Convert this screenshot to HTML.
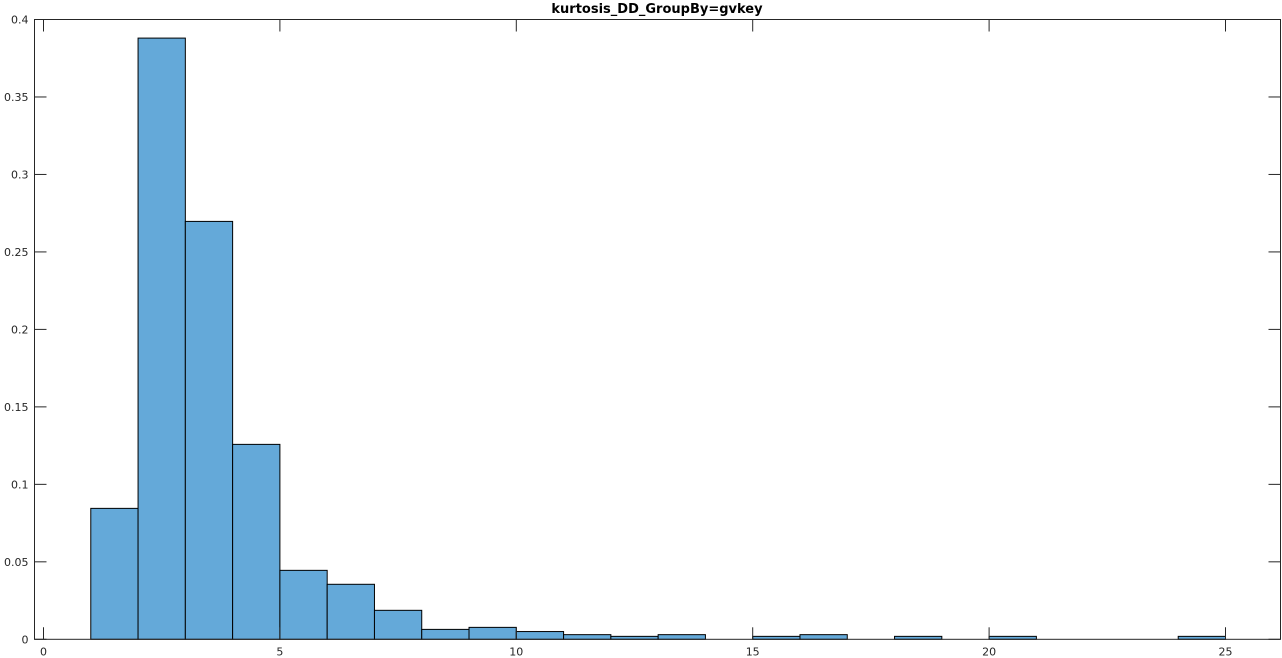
<!DOCTYPE html>
<html><head><meta charset="utf-8"><style>
html,body{margin:0;padding:0;background:#fff;width:1282px;height:658px;overflow:hidden}
svg{display:block}
text{font-family:"DejaVu Sans","Liberation Sans",sans-serif;font-size:11px;fill:#262626}
</style></head><body>
<svg id="chart" width="1282" height="658">
<text id="title" x="657" y="13" text-anchor="middle" style="font-weight:bold;font-size:13px;fill:#000">kurtosis_DD_GroupBy=gvkey</text>
<g id="bars"></g>
<g id="axes"></g>
</svg>
<script>
const binEdgesStart = [1,2,3,4,5,6,7,8,9,10,11,12,13,14,15,16,17,18,19,20,21,22,23,24];
const binValues = [0.0845,0.388,0.2697,0.1258,0.0445,0.0355,0.0187,0.0064,0.0077,0.005,0.003,0.0019,0.003,0,0.0019,0.003,0,0.0019,0,0.0019,0,0,0,0.0019];
const xTicks = [0,5,10,15,20,25];
const yTicks = [0,0.05,0.1,0.15,0.2,0.25,0.3,0.35,0.4];
const yTickLabels = ["0","0.05","0.1","0.15","0.2","0.25","0.3","0.35","0.4"];

const L=34.5,R=1280.5,T=19.5,B=639.3;
const sx=v=>43.5+v*(1225.5-43.5)/25;
const sy=v=>B-(v/0.4)*(B-T);
const NS="http://www.w3.org/2000/svg";
function mk(tag,attrs,parent){const e=document.createElementNS(NS,tag);for(const k in attrs)e.setAttribute(k,attrs[k]);parent.appendChild(e);return e;}
const bars=document.getElementById('bars'), axes=document.getElementById('axes');
binEdgesStart.forEach((x0,i)=>{
  const v=binValues[i]; if(v<=0) return;
  const r=mk('rect',{x:sx(x0),y:sy(v),width:sx(x0+1)-sx(x0),height:B-sy(v),fill:'#64a9d9',stroke:'#000','stroke-width':1},bars);
  
  
});
const box=mk('rect',{x:L,y:T,width:R-L,height:B-T,fill:'none',stroke:'#262626','stroke-width':1},axes);


xTicks.forEach(t=>{
  const x=sx(t);
  mk('line',{x1:x,y1:B,x2:x,y2:B-12,stroke:'#262626'},axes);
  mk('line',{x1:x,y1:T,x2:x,y2:T+12,stroke:'#262626'},axes);
  const tx=mk('text',{x:x,y:B+16,'text-anchor':'middle'},axes);tx.textContent=t;
  
  
});
yTicks.forEach((t,i)=>{
  const y=sy(t);
  mk('line',{x1:L,y1:y,x2:L+12,y2:y,stroke:'#262626'},axes);
  mk('line',{x1:R,y1:y,x2:R-12,y2:y,stroke:'#262626'},axes);
  const tx=mk('text',{x:L-6,y:y+4,'text-anchor':'end'},axes);tx.textContent=yTickLabels[i];
  
  
});
</script>
</body></html>
